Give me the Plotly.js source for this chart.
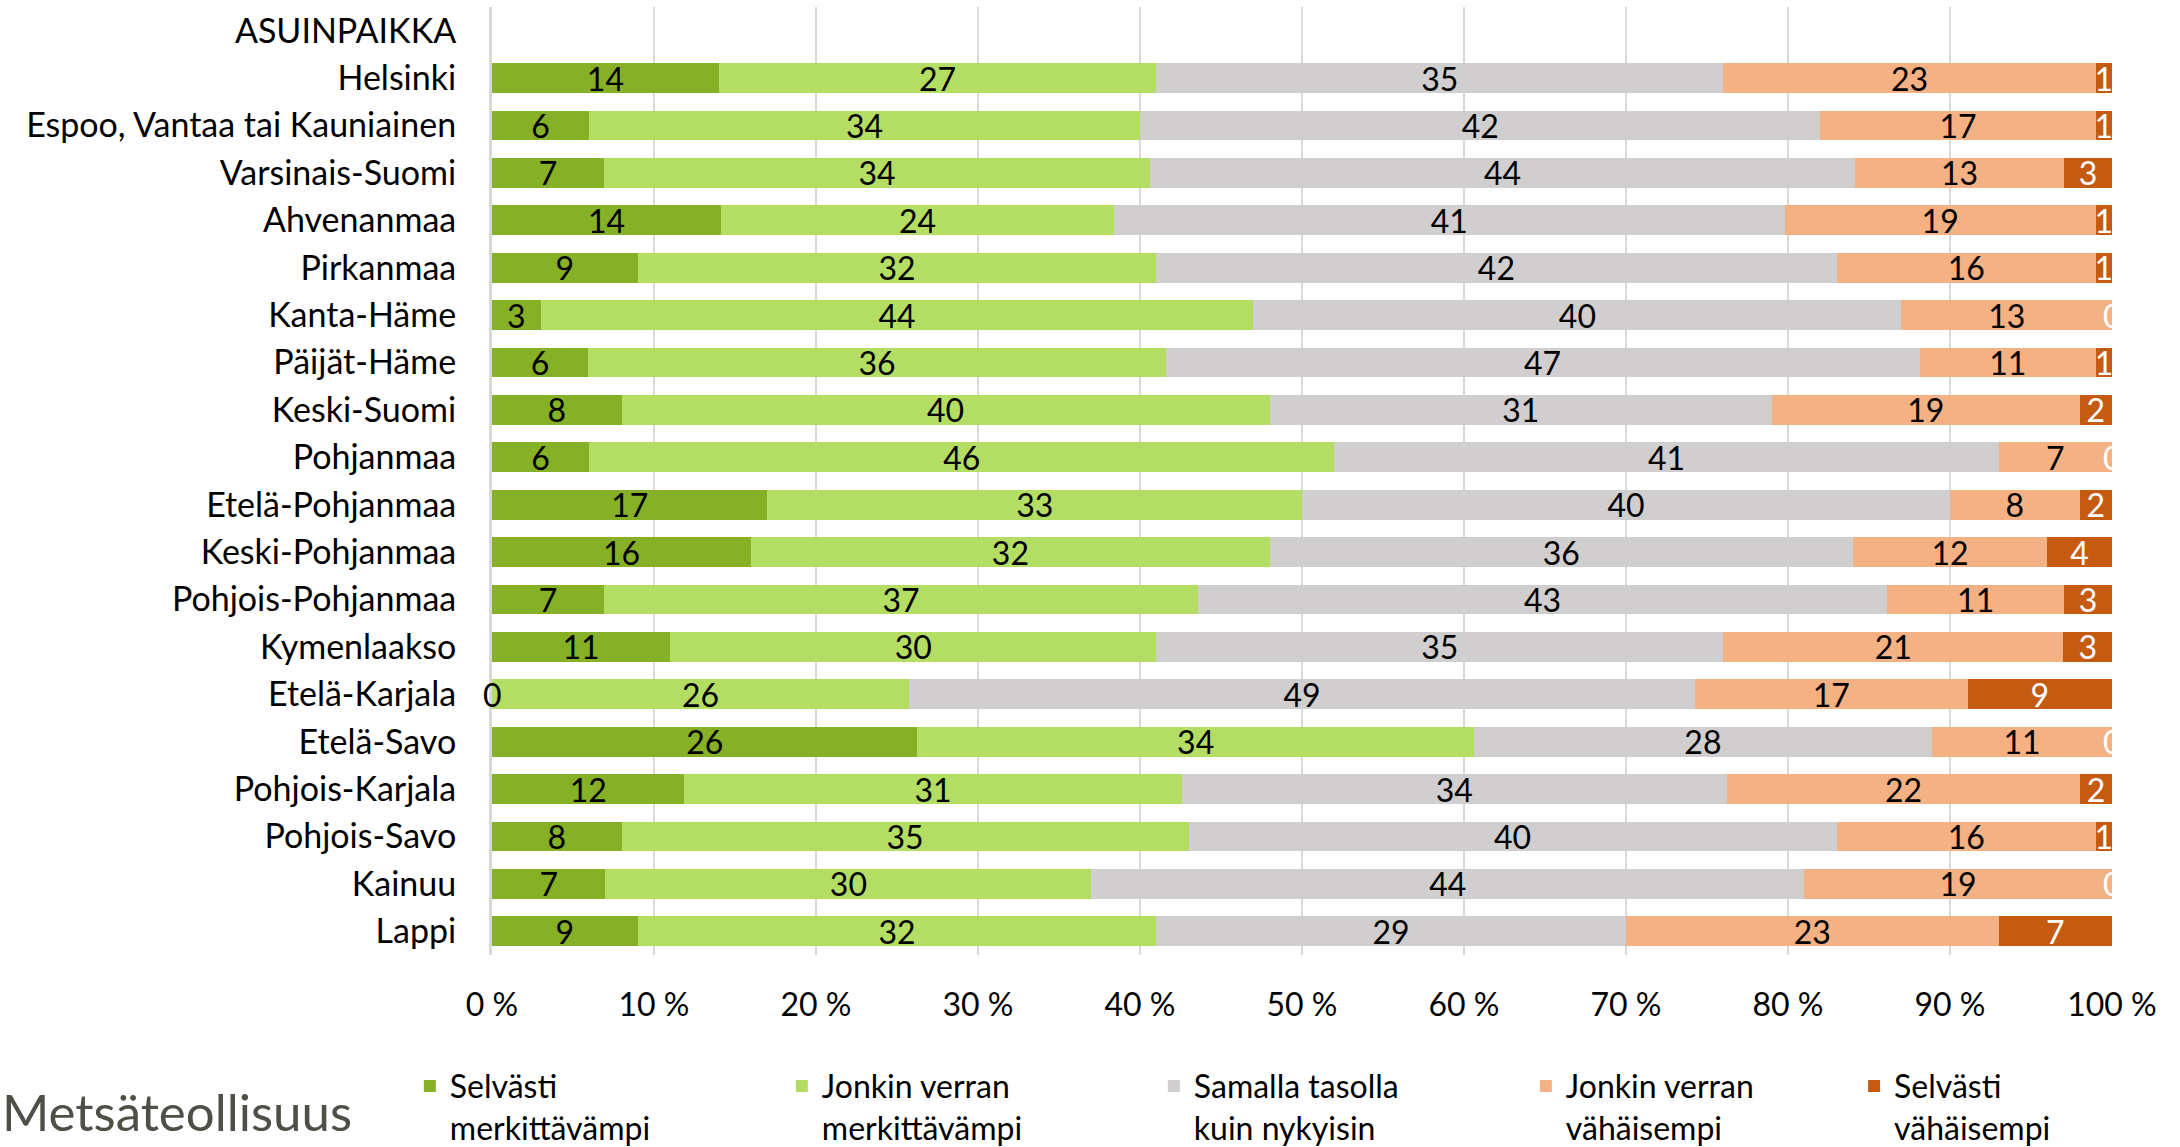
<!DOCTYPE html>
<html>
<head>
<meta charset="utf-8">
<script src="https://cdn.plot.ly/plotly-3.0.1.min.js"></script>
<style>
html,body{margin:0;padding:0;background:#fff;}
#chart{width:2180px;height:1147px;}
</style>
</head>
<body>
<div id="chart"></div>
<script>
// ---- Data ----
const categories = [
  "ASUINPAIKKA",
  "Helsinki",
  "Espoo, Vantaa tai Kauniainen",
  "Varsinais-Suomi",
  "Ahvenanmaa",
  "Pirkanmaa",
  "Kanta-Häme",
  "Päijät-Häme",
  "Keski-Suomi",
  "Pohjanmaa",
  "Etelä-Pohjanmaa",
  "Keski-Pohjanmaa",
  "Pohjois-Pohjanmaa",
  "Kymenlaakso",
  "Etelä-Karjala",
  "Etelä-Savo",
  "Pohjois-Karjala",
  "Pohjois-Savo",
  "Kainuu",
  "Lappi"
];

const seriesNames = [
  "Selvästi<br>merkittävämpi",
  "Jonkin verran<br>merkittävämpi",
  "Samalla tasolla<br>kuin nykyisin",
  "Jonkin verran<br>vähäisempi",
  "Selvästi<br>vähäisempi"
];

const selvastiMerkittavampi   = [null, 14, 6, 7, 14, 9, 3, 6, 8, 6, 17, 16, 7, 11, 0, 26, 12, 8, 7, 9];
const jonkinVerranMerkittavampi = [null, 27, 34, 34, 24, 32, 44, 36, 40, 46, 33, 32, 37, 30, 26, 34, 31, 35, 30, 32];
const samallaTasolla          = [null, 35, 42, 44, 41, 42, 40, 47, 31, 41, 40, 36, 43, 35, 49, 28, 34, 40, 44, 29];
const jonkinVerranVahaisempi  = [null, 23, 17, 13, 19, 16, 13, 11, 19, 7, 8, 12, 11, 21, 17, 11, 22, 16, 19, 23];
const selvastiVahaisempi      = [null, 1, 1, 3, 1, 1, 0, 1, 2, 0, 2, 4, 3, 3, 9, 0, 2, 1, 0, 7];

const tickValues = [0, 10, 20, 30, 40, 50, 60, 70, 80, 90, 100];
const tickLabels = ["0 %", "10 %", "20 %", "30 %", "40 %", "50 %", "60 %", "70 %", "80 %", "90 %", "100 %"];

const logoText = "Metsäteollisuus";

// ---- Styles ----
const colors = ["#86B025", "#B3DE63", "#D0CECE", "#F4B183", "#C55A11"];
const labelColors = ["#000000", "#000000", "#000000", "#000000", "#FFFFFF"];
const FONT = "Lato, 'Open Sans', 'DejaVu Sans', sans-serif";
const FS = 32;

const allSeries = [selvastiMerkittavampi, jonkinVerranMerkittavampi, samallaTasolla, jonkinVerranVahaisempi, selvastiVahaisempi];

const traces = allSeries.map((vals, s) => ({
  type: "bar",
  orientation: "h",
  name: seriesNames[s],
  legend: s < 4 ? "legend" : "legend2",
  y: categories,
  x: vals,
  text: vals.map(v => (v === null || v === 0) ? "" : String(v)),
  texttemplate: "%{text}",
  textposition: "inside",
  insidetextanchor: "middle",
  textangle: 0,
  textfont: {family: FONT, size: FS, color: labelColors[s]},
  marker: {color: colors[s], line: {width: 0}},
  hoverinfo: "skip"
}));

// zero-value labels (Excel still shows "0"), positioned from data through the axis scale
const annotations = [];
categories.forEach((cat, i) => {
  const row = allSeries.map(a => a[i]);
  if (row[0] === null) return;
  const total = row.reduce((a, b) => a + b, 0);
  let cum = 0;
  row.forEach((v, s) => {
    cum += v;
    if (v === 0) {
      annotations.push({
        xref: "x", yref: "y", x: cum / total * 100, y: cat,
        text: "0", showarrow: false, xanchor: "center", yanchor: "middle",
        font: {family: FONT, size: FS, color: labelColors[s]}
      });
    }
  });
});

annotations.push({
  xref: "paper", yref: "paper", x: -492 / 1620, y: -0.165,
  xanchor: "left", yanchor: "middle", showarrow: false,
  text: logoText,
  font: {family: FONT, size: 51, color: "#4F4F48"}
});

const legendCommon = {
  orientation: "h",
  xref: "container", yref: "container",
  xanchor: "left",
  y: 0.077, yanchor: "top",
  valign: "top",
  traceorder: "normal",
  font: {family: FONT, size: FS, color: "#000"},
  bgcolor: "rgba(0,0,0,0)"
};

const layout = {
  width: 2180, height: 1147,
  paper_bgcolor: "#fff", plot_bgcolor: "#fff",
  margin: {l: 492, r: 68, t: 7, b: 192, pad: 0},
  barmode: "stack",
  barnorm: "percent",
  bargap: 0.37,
  showlegend: true,
  uniformtext: {mode: "show", minsize: FS},
  font: {family: FONT, size: FS, color: "#000"},
  xaxis: {
    range: [0, 100],
    tickvals: tickValues,
    ticktext: tickLabels,
    showgrid: true, gridcolor: "#D9D9D9", gridwidth: 2,
    zeroline: false, showline: false,
    ticks: "", ticklabelstandoff: 28,
    tickfont: {family: FONT, size: FS, color: "#000"},
    fixedrange: true
  },
  yaxis: {
    type: "category",
    categoryorder: "array",
    categoryarray: categories,
    autorange: "reversed",
    showgrid: false, zeroline: false,
    showline: true, linecolor: "#D9D9D9", linewidth: 3,
    ticks: "", ticklabelstandoff: 26,
    tickfont: {family: FONT, size: 34, color: "#000"},
    fixedrange: true
  },
  legend: Object.assign({}, legendCommon, {
    x: 0.188,
    entrywidth: 327, entrywidthmode: "pixels"
  }),
  legend2: Object.assign({}, legendCommon, {
    x: 0.8505
  }),
  annotations: annotations
};

Plotly.newPlot("chart", traces, layout, {displayModeBar: false, staticPlot: true});
</script>
</body>
</html>
